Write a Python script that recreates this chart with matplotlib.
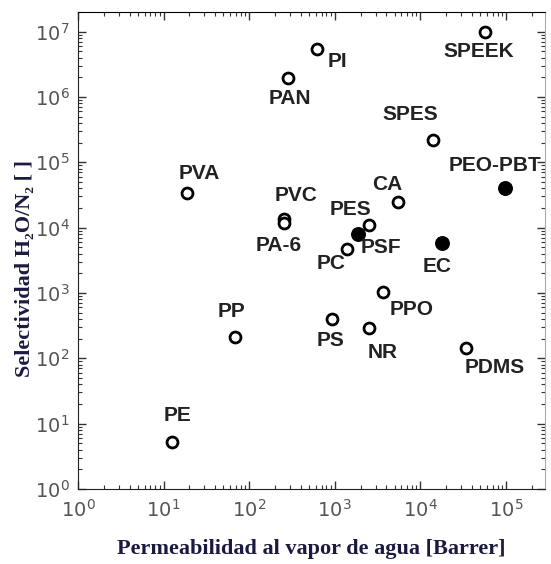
import numpy as np
import matplotlib.pyplot as plt
from matplotlib.ticker import LogLocator, NullFormatter

# Data
polymers = ['SPEEK', 'PI', 'PAN', 'SPES', 'PEO-PBT', 'CA', 'PVC', 'PA-6', 'PES',
            'PSF', 'PC', 'EC', 'PVA', 'PP', 'PE', 'PPO', 'PS', 'NR', 'PDMS']
permeability = [5.7e4, 620, 283, 1.4e4, 9.8e4, 5.5e3, 255, 255, 2500,
                1870, 1380, 1.78e4, 18.8, 68, 12.5, 3650, 930, 2500, 3.4e4]
selectivity = [1.0e7, 5.5e6, 1.96e6, 2.2e5, 4.1e4, 2.5e4, 1.36e4, 1.18e4, 1.1e4,
               8.0e3, 4.7e3, 5.9e3, 3.4e4, 213, 5.2, 1040, 400, 290, 145]
filled = [False, False, False, False, True, False, False, False, False,
          True, False, True, False, False, False, False, False, False, False]

# label offsets in pixels (dx right, dy down)
offsets = [(-6, 20), (20, 13), (2, 21), (-23, -25), (-10, -22), (-11, -17), (12, -23),
           (-5, 23), (-18, -15), (23, 14), (-16, 14), (-5, 24), (12, -19), (-3, -25),
           (6, -27), (29, 18), (-2, 22), (14, 24), (29, 20)]

fig = plt.figure(figsize=(5.51, 5.64), dpi=100)
ax = fig.add_axes([78 / 551, 75 / 564, 467 / 551, 477 / 564])

for x, y, f in zip(permeability, selectivity, filled):
    if f:
        ax.scatter(x, y, s=95, facecolor='black', edgecolor='black', zorder=3)
    else:
        ax.scatter(x, y, s=62, facecolor='white', edgecolor='black', linewidth=2, zorder=3)

for name, x, y, (dx, dy) in zip(polymers, permeability, selectivity, offsets):
    ax.annotate(name, (x, y), xytext=(dx * 0.72, -dy * 0.72), textcoords='offset points',
                ha='center', va='center', fontsize=15, fontweight='bold',
                family='Liberation Sans', color='#222222')

ax.set_xscale('log')
ax.set_yscale('log')
ax.set_xlim(1, 2.86e5)
ax.set_ylim(1, 2.0e7)

ax.xaxis.set_major_locator(LogLocator(base=10, numticks=10))
ax.yaxis.set_major_locator(LogLocator(base=10, numticks=10))
ax.xaxis.set_minor_locator(LogLocator(base=10, subs=np.arange(2, 10), numticks=10))
ax.yaxis.set_minor_locator(LogLocator(base=10, subs=np.arange(2, 10), numticks=10))
ax.xaxis.set_minor_formatter(NullFormatter())
ax.yaxis.set_minor_formatter(NullFormatter())

ax.tick_params(which='both', direction='in', top=True, right=True, colors='#333333',
               labelcolor='#555555')
ax.tick_params(which='major', length=6, labelsize=14, width=1)
ax.tick_params(which='minor', length=3, width=0.8)
ax.tick_params(axis='x', which='major', pad=7)
ax.tick_params(axis='y', which='major', pad=6)
ax.spines['right'].set_color('#aaaaaa')
ax.spines['left'].set_color('#222222')
ax.spines['bottom'].set_color('#222222')

ax.set_xlabel('Permeabilidad al vapor de agua [Barrer]', family=['Liberation Serif', 'DejaVu Serif'],
              fontweight='bold', fontsize=16, color='#1a1a40', labelpad=13)
ax.set_ylabel('Selectividad H\u2082O/N\u2082 [ ]', family=['Liberation Serif', 'DejaVu Serif'],
              fontweight='bold', fontsize=16, color='#1a1a40', va='center')
ax.yaxis.set_label_coords(-0.113, 0.463)

fig.savefig('out.png', dpi=100)
